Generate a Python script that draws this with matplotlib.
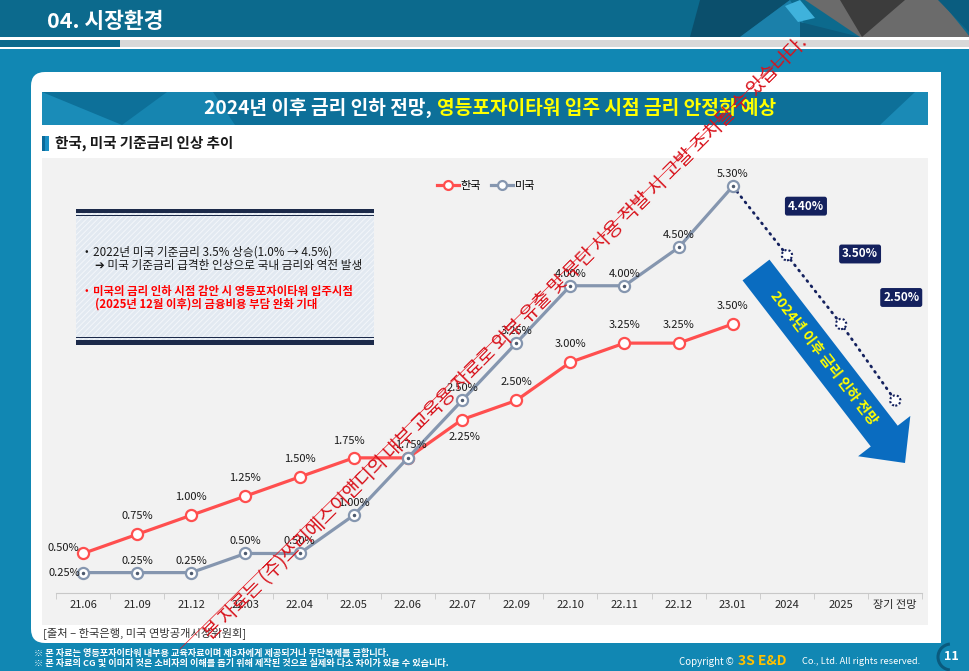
import matplotlib
matplotlib.use('Agg')
import matplotlib.pyplot as plt
import matplotlib.patches as mpatches
import numpy as np

plt.rcParams['font.family'] = ['Noto Sans CJK KR', 'DejaVu Sans']
plt.rcParams['hatch.linewidth'] = 0.7

# ---- data ----
periods = ['21.06', '21.09', '21.12', '22.03', '22.04', '22.05', '22.06', '22.07',
           '22.09', '22.10', '22.11', '22.12', '23.01', '2024', '2025', '장기 전망']
korea = [0.50, 0.75, 1.00, 1.25, 1.50, 1.75, 1.75, 2.25, 2.50, 3.00, 3.25, 3.25, 3.50]
usa = [0.25, 0.25, 0.25, 0.50, 0.50, 1.00, 1.75, 2.50, 3.25, 4.00, 4.00, 4.50, 5.30]
usa_forecast = [5.30, 4.40, 3.50, 2.50]   # 23.01 -> 2024 -> 2025 -> 장기 전망

RED = '#ff4f4f'
GRAY = '#8596af'
NAVY = '#14215e'
TEAL = '#1187b3'
DARK_TEAL = '#0c6a8d'

fig = plt.figure(figsize=(9.7, 6.71), dpi=100)

# background axes in pixel coordinates
bg = fig.add_axes([0, 0, 1, 1], zorder=0)
bg.set_xlim(0, 970)
bg.set_ylim(671, 0)
bg.axis('off')

def poly(ax, pts, color, z=1):
    ax.add_patch(mpatches.Polygon(pts, closed=True, fc=color, ec='none', zorder=z))

bg.add_patch(mpatches.Rectangle((0, 0), 970, 671, fc=TEAL, ec='none', zorder=0))
bg.add_patch(mpatches.Rectangle((0, 0), 970, 37, fc=DARK_TEAL, ec='none', zorder=1))
# header decoration
poly(bg, [(690, 37), (700, 0), (790, 0), (740, 37)], '#0b4f6c')
poly(bg, [(740, 37), (790, 0), (812, 37)], '#1b80aa')
poly(bg, [(785, 6), (800, 0), (815, 18), (798, 22)], '#3fb2dc')
poly(bg, [(805, 0), (940, 0), (970, 37), (860, 37)], '#6b6b6b')
poly(bg, [(840, 0), (905, 0), (862, 37)], '#3c3c3c')
poly(bg, [(800, 22), (860, 37), (800, 37)], '#0d5b7c')
poly(bg, [(938, 0), (970, 0), (970, 33)], '#0a5d80')
bg.add_patch(mpatches.Rectangle((0, 37), 970, 3, fc='white', ec='none', zorder=2))
bg.add_patch(mpatches.Rectangle((0, 40), 970, 7, fc='#d8d8d8', ec='none', zorder=2))
bg.add_patch(mpatches.Rectangle((0, 40), 120, 7, fc=DARK_TEAL, ec='none', zorder=3))
bg.add_patch(mpatches.Rectangle((0, 47), 970, 2, fc='white', ec='none', zorder=2))
bg.text(47, 21, '04. 시장환경', color='white', fontsize=15.5, fontweight='bold',
        va='center', ha='left', zorder=4)

# white panel (rounded on the left side)
bg.add_patch(mpatches.FancyBboxPatch((31, 72), 910, 571,
                                     boxstyle='round,pad=0,rounding_size=14',
                                     fc='white', ec='none', zorder=2))
bg.add_patch(mpatches.Rectangle((500, 72), 441, 571, fc='white', ec='none', zorder=2))

# title banner
bg.add_patch(mpatches.Rectangle((42, 92), 886, 33, fc='#0d7099', ec='none', zorder=3))
poly(bg, [(42, 92), (42, 125), (122, 125)], '#1a8cb8', 4)
poly(bg, [(167, 92), (122, 125), (235, 125), (213, 92)], '#1685b0', 4)
poly(bg, [(880, 125), (915, 92), (928, 92), (928, 125)], '#1a8ab6', 4)
bg.text(432, 108, '2024년 이후 금리 인하 전망,', color='white', fontsize=13.8,
        fontweight='bold', ha='right', va='center', zorder=5)
bg.text(437, 108, '영등포자이타워 입주 시점 금리 안정화 예상', color='#ffff00',
        fontsize=13.8, fontweight='bold', ha='left', va='center', zorder=5)

# subtitle
bg.add_patch(mpatches.Rectangle((42, 136), 7, 15, fc='#1a8fc4', ec='none', zorder=3))
bg.add_patch(mpatches.Rectangle((42, 136), 3, 15, fc='#0c6a9a', ec='none', zorder=3))
bg.text(55, 143, '한국, 미국 기준금리 인상 추이', color='#1a1a1a', fontsize=10.5,
        fontweight='bold', ha='left', va='center', zorder=4)

# source and footer
bg.text(43, 633, '[출처 – 한국은행, 미국 연방공개시장위원회]', color='#333333',
        fontsize=8.1, ha='left', va='center', zorder=4)
bg.text(34, 653, '※ 본 자료는 영등포자이타워 내부용 교육자료이며 제3자에게 제공되거나 무단복제를 금합니다.',
        color='white', fontsize=6.6, fontweight='bold', ha='left', va='center', zorder=4)
bg.text(34, 663, '※ 본 자료의 CG 및 이미지 컷은 소비자의 이해를 돕기 위해 제작된 것으로 실제와 다소 차이가 있을 수 있습니다.',
        color='white', fontsize=6.6, fontweight='bold', ha='left', va='center', zorder=4)
bg.text(734, 662, 'Copyright ©', color='white', fontsize=7, ha='right', va='center', zorder=4)
bg.text(738, 661, '3S E&D', color='#ffc000', fontsize=10, fontweight='bold',
        ha='left', va='center', zorder=4)
bg.text(802, 662, 'Co., Ltd. All rights reserved.', color='white', fontsize=6.7,
        ha='left', va='center', zorder=4)
bg.add_patch(mpatches.Arc((951, 657), 26, 26, theta1=95, theta2=265,
                          color='#0a5a7e', lw=2.2, zorder=4))
bg.text(951, 657, '11', color='white', fontsize=9, fontweight='bold',
        ha='center', va='center', zorder=5)

# ---- chart axes ----
ax = fig.add_axes([42 / 970, 1 - 625 / 671, 886 / 970, 467 / 671], zorder=1)
ax.set_facecolor('#f2f2f2')
ax.set_xlim(-0.757, 15.605)
ax.set_ylim(-0.435, 5.67)

x_all = np.arange(len(periods))
x_hist = x_all[:len(korea)]
x_fc = x_all[len(korea) - 1:]

for s in ['top', 'left', 'right']:
    ax.spines[s].set_visible(False)
ax.spines['bottom'].set_position(('data', -0.015))
ax.spines['bottom'].set_bounds(-0.5, 15.5)
ax.spines['bottom'].set_color('#c8c8c8')
ax.set_xticks(x_all)
ax.set_xticklabels(periods)
ax.set_xticks(np.arange(-0.5, 16, 1), minor=True)
ax.tick_params(axis='x', which='major', length=0, pad=5, labelsize=8, labelcolor='#262626')
ax.tick_params(axis='x', which='minor', length=4, color='#c8c8c8')
ax.set_yticks([])

ax.plot(x_fc, usa_forecast, color=NAVY, lw=2, linestyle=(0, (0.4, 2.0)),
        dash_capstyle='round', zorder=2)
ax.scatter(x_fc[1:], usa_forecast[1:], s=55, facecolors='white', edgecolors=NAVY,
           linewidths=1.5, linestyles=(0, (1, 1)), zorder=3)

ax.plot(x_hist, korea, color=RED, lw=2.3, marker='o', ms=8, mfc='white', mec=RED,
        mew=1.6, zorder=4, label='한국')
ax.plot(x_hist, usa, color=GRAY, lw=2.3, marker='o', ms=8, mfc='white', mec=GRAY,
        mew=1.6, zorder=5, label='미국')
ax.plot(x_hist, usa, 'o', ms=1.5, color='#4d5a6e', zorder=6)

# data labels
for i, v in enumerate(korea):
    if i == 6:
        continue
    off, ha = (0, 18), 'center'
    if i == 0:
        off, ha = (-4, 5), 'right'
    elif i == 5:
        off = (-5, 17)
    elif i == 7:
        off = (2, -17)
    ax.annotate(f'{v:.2f}%', (x_hist[i], v), xytext=off, textcoords='offset pixels',
                ha=ha, va='center', fontsize=8, color='#1a1a1a', zorder=7)

for i, v in enumerate(usa):
    off, ha = (0, 12), 'center'
    if i == 0:
        off, ha = (-3, 0), 'right'
    elif i == 6:
        off = (3, 13)
    ax.annotate(f'{v:.2f}%', (x_hist[i], v), xytext=off, textcoords='offset pixels',
                ha=ha, va='center', fontsize=8, color='#1a1a1a', zorder=7)

box_offsets = [(19, 49), (19, 70), (6, 103)]
for i, v in enumerate(usa_forecast[1:]):
    ax.annotate(f'{v:.2f}%', (x_fc[i + 1], v), xytext=box_offsets[i],
                textcoords='offset pixels', ha='center', va='center', fontsize=8.5,
                fontweight='bold', color='white', zorder=7,
                bbox=dict(boxstyle='round,pad=0.25,rounding_size=0.2', fc=NAVY, ec='none'))

ax.legend(loc='center', bbox_to_anchor=((486 - 42) / 886, (625 - 186) / 467), ncol=2,
          frameon=False, fontsize=8, handlelength=2.0, handletextpad=0.15,
          columnspacing=0.9, markerscale=0.8)

# ---- overlay in pixel coordinates ----
ov = fig.add_axes([0, 0, 1, 1], zorder=5)
ov.set_xlim(0, 970)
ov.set_ylim(671, 0)
ov.axis('off')
ov.patch.set_alpha(0)

# info box
ov.add_patch(mpatches.Rectangle((76, 213), 298, 127, fc='#e2e9f1', ec='#f3f6fa', lw=0,
                                hatch='//////'))
ov.add_patch(mpatches.Rectangle((76, 209), 298, 4, fc='#1c2a4a', ec='none'))
ov.add_patch(mpatches.Rectangle((76, 214.5), 298, 1.2, fc='#1c2a4a', ec='none'))
ov.add_patch(mpatches.Rectangle((76, 337), 298, 1.2, fc='#1c2a4a', ec='none'))
ov.add_patch(mpatches.Rectangle((76, 340), 298, 4.5, fc='#1c2a4a', ec='none'))
ov.text(85, 252, '•', color='#1a1a1a', fontsize=7.5, ha='left', va='center')
ov.text(93, 252, '2022년 미국 기준금리 3.5% 상승(1.0% → 4.5%)', color='#1a1a1a',
        fontsize=8.4, ha='left', va='center')
ov.text(95, 265, '➔ 미국 기준금리 급격한 인상으로 국내 금리와 역전 발생', color='#1a1a1a',
        fontsize=8.4, ha='left', va='center')
ov.text(85, 291, '•', color='#ff0000', fontsize=7.5, ha='left', va='center')
ov.text(93, 291, '미국의 금리 인하 시점 감안 시 영등포자이타워 입주시점', color='#ff0000',
        fontsize=8.2, fontweight='bold', ha='left', va='center')
ov.text(95, 304, '(2025년 12월 이후)의 금융비용 부담 완화 기대', color='#ff0000',
        fontsize=8.2, fontweight='bold', ha='left', va='center')

# forecast arrow
ov.add_patch(mpatches.FancyArrow(756, 270, 149, 193, width=34, head_width=66,
                                 head_length=34, length_includes_head=True,
                                 fc='#0a6cc0', ec='none'))
ov.text(823, 358, '2024년 이후 금리 인하 전망', color='#ffff00', fontsize=10.3,
        fontweight='bold', rotation=-52.3, rotation_mode='anchor',
        ha='center', va='center')

# watermark
ov.plot([180, 790], [649, 49], color='#e8141c', lw=0.5)
ov.text(506, 338, '본 자료는 (주)쓰리에스이앤디의 내부 교육용 자료로 외부 유출 및 무단 사용 적발 시 고발 조치될 수 있습니다.',
        color='#d8121b', fontsize=13.8, fontweight='light', rotation=45,
        rotation_mode='anchor', ha='center', va='center')

fig.savefig('out.png', dpi=100)
